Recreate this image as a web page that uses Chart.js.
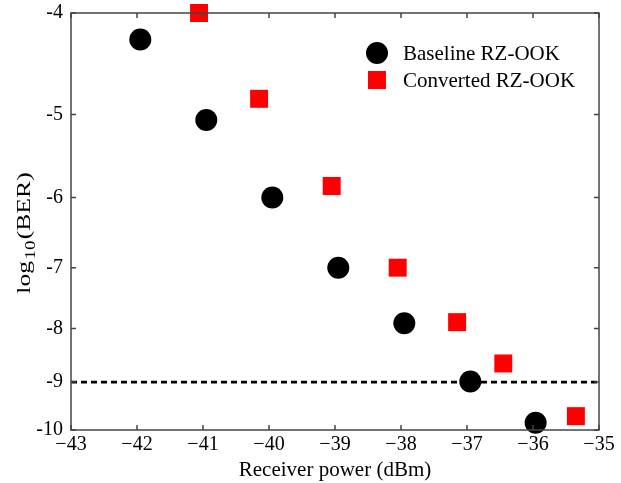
<!DOCTYPE html>
<html>
<head>
<meta charset="utf-8">
<script src="https://cdn.jsdelivr.net/npm/chart.js@4.4.1/dist/chart.umd.min.js"></script>
<style>
    html, body { margin: 0; padding: 0; background: #fff; }
    #wrap { width: 621px; height: 483px; }
</style>
</head>
<body>
<div id="wrap"><canvas id="berChart" width="621" height="483"></canvas></div>
<script>
(function () {
    'use strict';

    // --- Data ---
    var baselinePower = [-41.95, -40.95, -39.95, -38.95, -37.95, -36.95, -35.96];
    var baselineLogBer = [-4.24, -5.06, -6.0, -7.0, -7.91, -8.99, -9.84];
    var convertedPower = [-41.06, -40.15, -39.05, -38.05, -37.15, -36.45, -35.35];
    var convertedLogBer = [-4.0, -4.83, -5.85, -7.0, -7.89, -8.64, -9.70];
    var xTicks = [-43, -42, -41, -40, -39, -38, -37, -36, -35];
    var yTicks = [-4, -5, -6, -7, -8, -9, -10];
    var limitLogBer = -9;

    var serif = '"Liberation Serif", "Times New Roman", serif';

    // y axis is log10(-log10(BER)), so plot -log10(BER) on a reversed log scale
    function toPoints(xs, ys) {
        return xs.map(function (x, i) { return { x: x, y: -ys[i] }; });
    }

    // --- Box, inward ticks, legend and y title ---
    var framePlugin = {
        id: 'frame',
        afterDraw: function (chart) {
            var ctx = chart.ctx;
            var a = chart.chartArea;
            var xs = chart.scales.x;
            var ys = chart.scales.y;
            ctx.save();
            ctx.strokeStyle = '#444';
            ctx.lineWidth = 1.5;
            ctx.strokeRect(a.left, a.top, a.right - a.left, a.bottom - a.top);
            ctx.beginPath();
            xTicks.forEach(function (v) {
                var px = xs.getPixelForValue(v);
                ctx.moveTo(px, a.bottom); ctx.lineTo(px, a.bottom - 5);
                ctx.moveTo(px, a.top); ctx.lineTo(px, a.top + 5);
            });
            yTicks.forEach(function (v) {
                var py = ys.getPixelForValue(-v);
                ctx.moveTo(a.left, py); ctx.lineTo(a.left + 5, py);
                ctx.moveTo(a.right, py); ctx.lineTo(a.right - 5, py);
            });
            ctx.stroke();

            // legend
            var items = [
                { label: 'Baseline RZ-OOK', style: 'circle', r: 11, color: '#000' },
                { label: 'Converted RZ-OOK', style: 'rect', r: 12.7, color: '#ff0000' }
            ];
            ctx.font = '21px ' + serif;
            ctx.textBaseline = 'middle';
            ctx.textAlign = 'left';
            items.forEach(function (it, i) {
                var y = 53 + i * 27;
                ctx.fillStyle = it.color;
                ctx.strokeStyle = it.color;
                Chart.helpers.drawPoint(ctx, { pointStyle: it.style, radius: it.r, borderWidth: 0 }, 377, y);
                ctx.fillStyle = '#000';
                ctx.fillText(it.label, 403, y + 1);
            });

            // y title with subscript (the reference text is stretched along its length)
            ctx.translate(30, 233);
            ctx.rotate(-Math.PI / 2);
            ctx.scale(1.35, 1);
            ctx.textBaseline = 'alphabetic';
            var big = '19px ' + serif;
            var small = '14px ' + serif;
            ctx.font = big;
            var w1 = ctx.measureText('log').width;
            var w3 = ctx.measureText('(BER)').width;
            ctx.font = small;
            var w2 = ctx.measureText('10').width + 2;
            var x0 = -(w1 + w2 + w3) / 2;
            ctx.fillStyle = '#000';
            ctx.font = big;
            ctx.fillText('log', x0, 0);
            ctx.font = small;
            ctx.fillText('10', x0 + w1 + 1, 5);
            ctx.font = big;
            ctx.fillText('(BER)', x0 + w1 + w2, 0);
            ctx.restore();
        }
    };

    new Chart(document.getElementById('berChart'), {
        type: 'scatter',
        data: {
            datasets: [{
                label: 'Baseline RZ-OOK',
                data: toPoints(baselinePower, baselineLogBer),
                pointStyle: 'circle',
                pointRadius: 11,
                backgroundColor: '#000',
                borderColor: '#000',
                borderWidth: 0,
                clip: false
            }, {
                label: 'Converted RZ-OOK',
                data: toPoints(convertedPower, convertedLogBer),
                pointStyle: 'rect',
                pointRadius: 12.7,
                backgroundColor: '#ff0000',
                borderColor: '#ff0000',
                borderWidth: 0,
                clip: false
            }, {
                label: 'limit',
                type: 'line',
                data: [{ x: xTicks[0], y: -limitLogBer }, { x: xTicks[xTicks.length - 1], y: -limitLogBer }],
                borderColor: '#000',
                borderWidth: 2.8,
                borderDash: [6, 4],
                pointRadius: 0,
                fill: false,
                order: 5
            }]
        },
        options: {
            responsive: false,
            animation: false,
            layout: { padding: { left: 0, top: 13, right: 22, bottom: 0 } },
            plugins: {
                legend: { display: false },
                tooltip: { enabled: false }
            },
            scales: {
                x: {
                    type: 'linear',
                    min: -43,
                    max: -35,
                    afterBuildTicks: function (scale) {
                        scale.ticks = xTicks.map(function (v) { return { value: v }; });
                    },
                    afterFit: function (scale) { scale.height = 53; },
                    ticks: {
                        color: '#000',
                        padding: -5,
                        maxRotation: 0,
                        font: { family: serif, size: 20 },
                        callback: function (v) { return '\u2212' + Math.abs(v); }
                    },
                    grid: { display: false },
                    border: { display: false },
                    title: {
                        display: true,
                        text: 'Receiver power (dBm)',
                        color: '#000',
                        padding: { top: 0, bottom: 0 },
                        font: { family: serif, size: 21 }
                    }
                },
                y: {
                    type: 'logarithmic',
                    reverse: true,
                    min: 4,
                    max: 10,
                    afterBuildTicks: function (scale) {
                        scale.ticks = yTicks.map(function (v) { return { value: -v }; });
                    },
                    afterFit: function (scale) { scale.width = 71; },
                    ticks: {
                        color: '#000',
                        padding: 0,
                        font: { family: serif, size: 20 },
                        callback: function (v) { return '-' + v; }
                    },
                    grid: { display: false },
                    border: { display: false }
                }
            }
        },
        plugins: [framePlugin]
    });
})();
</script>
</body>
</html>
